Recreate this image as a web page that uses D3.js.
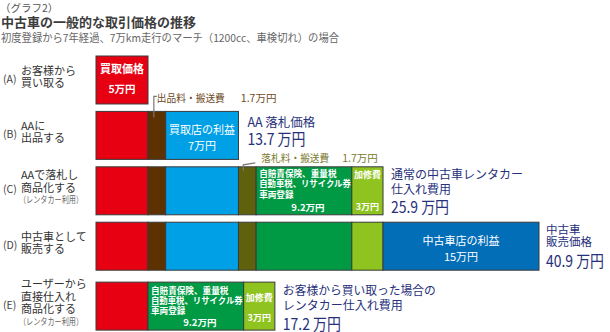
<!DOCTYPE html>
<html><head><meta charset="utf-8">
<script src="https://cdn.jsdelivr.net/npm/d3@7"></script>
<style>
html,body{margin:0;padding:0;background:#fff;}
text{font-family:"Noto Sans CJK JP","Noto Sans",sans-serif;}
</style></head>
<body>
<svg id="chart" width="610" height="332"></svg>
<script>
// ---- data ----
const categories = ["A", "B", "C", "D", "E"];
const rowLabels = [
  ["お客様から", "買い取る"],
  ["AAに", "出品する"],
  ["AAで落札し", "商品化する", "（レンタカー利用）"],
  ["中古車として", "販売する"],
  ["ユーザーから", "直接仕入れ", "商品化する", "（レンタカー利用）"]
];
const segmentNames = ["買取価格", "出品料・搬送費", "買取店の利益", "落札料・搬送費", "自賠責保険、重量税|自動車税、リサイクル券|車両登録", "加修費", "中古車店の利益"];
const segmentValues = [5, 1.7, 7, 1.7, 9.2, 3, 15];
const rowSegments = [[0], [0, 1, 2], [0, 1, 2, 3, 4, 5], [0, 1, 2, 3, 4, 5, 6], [0, 4, 5]];
const rowLabelledSegments = [[0], [2], [4, 5], [6], [4, 5]];
const rowTotals = [null, 13.7, 25.9, 40.9, 17.2];
const totalLabels = [null, ["AA 落札価格"], ["通常の中古車レンタカー", "仕入れ費用"], ["中古車", "販売価格"], ["お客様から買い取った場合の", "レンタカー仕入れ費用"]];
const calloutRows = [[1, 1], [2, 3]]; // [row, segment]

// ---- styles ----
const segmentColors = ["#e60012", "#5e3200", "#00a0e6", "#5f610c", "#009a44", "#8fc31f", "#036eb8"];
const navy = "#27307a";

const svg = d3.select("#chart");
const x = d3.scaleLinear().domain([0, d3.sum(segmentValues)]).range([96, 539]);
const y = d3.scaleBand().domain(categories).range([56, 325.6]).paddingInner(0.134);
const extraGap = {E: 4.5};
const barTop = c => y(c) + (extraGap[c] || 0);
const bh = y.bandwidth();

function fit(sel, maxW) {
  const w = sel.node().getComputedTextLength();
  if (w > maxW) sel.attr("textLength", maxW).attr("lengthAdjust", "spacingAndGlyphs");
  return sel;
}

// title
svg.append("text").attr("x", 0).attr("y", 8).attr("dy", "0.35em").attr("font-size", 10.5).attr("fill", "#555").text("（グラフ2）");
svg.append("text").attr("x", 1).attr("y", 22).attr("dy", "0.35em").attr("font-size", 13).attr("font-weight", "bold").attr("fill", "#3c3c3c").text("中古車の一般的な取引価格の推移");
fit(svg.append("text").attr("x", 1).attr("y", 38).attr("dy", "0.35em").attr("font-size", 10.8).attr("fill", "#666").text("初度登録から7年経過、7万km走行のマーチ（1200cc、車検切れ）の場合"), 338);

// stacked segments
const segs = [];
rowSegments.forEach((list, r) => {
  let acc = 0;
  list.forEach(s => {
    segs.push({row: categories[r], r, s, x0: acc, x1: acc + segmentValues[s]});
    acc += segmentValues[s];
  });
});

svg.append("g").selectAll("rect").data(segs).join("rect")
  .attr("x", d => x(d.x0)).attr("y", d => barTop(d.row))
  .attr("width", d => x(d.x1) - x(d.x0)).attr("height", bh)
  .attr("fill", d => segmentColors[d.s])
  .attr("stroke", "#3a3a3a").attr("stroke-width", 1);

// row labels
categories.forEach((c, r) => {
  const bc = barTop(c) + bh / 2;
  const g = svg.append("g");
  g.append("text").attr("x", 3).attr("y", bc - 1).attr("dy", "0.35em").attr("font-size", 10.5).attr("fill", "#444").text("(" + c + ")");
  const lines = rowLabels[r];
  const sp = 12.4;
  const start = bc - 3 - (lines.length - 1) * sp / 2;
  lines.forEach((t, i) => {
    const small = t.startsWith("（");
    const tx = g.append("text").attr("x", small ? 19 : 21).attr("y", start + i * sp).attr("dy", "0.35em")
      .attr("font-size", small ? 9 : 11).attr("fill", small ? "#666" : "#333").text(t);
    fit(tx, small ? 64 : 66);
  });
});

// in-bar labels
segs.forEach(d => {
  if (!rowLabelledSegments[d.r].includes(d.s)) return;
  const t = barTop(d.row), x0 = x(d.x0), x1 = x(d.x1), cx = (x0 + x1) / 2;
  const val = segmentValues[d.s] + "万円";
  const add = (tx, ty, str, size, weight, anchor) => fit(svg.append("text").attr("x", tx).attr("y", ty).attr("dy", "0.35em")
    .attr("font-size", size).attr("font-weight", weight).attr("fill", "#fff").attr("text-anchor", anchor || "middle").text(str), x1 - x0 - 4);
  if (d.s === 0) {
    add(cx, t + 13, segmentNames[0], 11, "bold");
    add(cx, t + 33, val, 10.5, "bold");
  } else if (d.s === 2 || d.s === 6) {
    add(cx, t + 18.5, segmentNames[d.s], 11, "normal");
    add(cx, t + 34.5, val, 11, "normal");
  } else if (d.s === 4) {
    const lines = segmentNames[4].split("|");
    const off = d.row === "E" ? [9, 19, 29] : [7, 17.5, 28];
    lines.forEach((l, i) => add(x0 + 3, t + off[i], l, 8.6, "bold", "start"));
    add(cx + 4, t + 41, val, 9.5, "bold");
  } else if (d.s === 5) {
    const off = d.row === "E" ? [16, 36] : [8, 40];
    add(cx, t + off[0], segmentNames[5], 9, "bold");
    add(cx, t + off[1], val, 9, "bold");
  }
});

// callouts
calloutRows.forEach(([r, s]) => {
  const d = segs.find(e => e.r === r && e.s === s);
  const t = barTop(d.row);
  const cx = (x(d.x0) + x(d.x1)) / 2;
  const color = s === 1 ? "#6e4a1e" : "#7b7a2e";
  if (s === 1) {
    svg.append("path").attr("d", `M${cx - 3},${t + 6}V${t - 15}H${cx}`).attr("fill", "none").attr("stroke", "#777").attr("stroke-width", 1.2);
    fit(svg.append("text").attr("x", cx).attr("y", t - 13).attr("dy", "0.35em").attr("font-size", 10.5).attr("fill", color).text(segmentNames[s]), 68);
    svg.append("text").attr("x", cx + 84).attr("y", t - 13).attr("dy", "0.35em").attr("font-size", 10.5).attr("fill", color).text(segmentValues[s] + "万円");
  } else {
    svg.append("path").attr("d", `M${cx - 4},${t + 4}V${t - 2}L${cx + 8},${t - 4}`).attr("fill", "none").attr("stroke", "#777").attr("stroke-width", 1.2);
    fit(svg.append("text").attr("x", cx + 14).attr("y", t - 8).attr("dy", "0.35em").attr("font-size", 10.5).attr("fill", color).text(segmentNames[s]), 68);
    svg.append("text").attr("x", cx + 95).attr("y", t - 8).attr("dy", "0.35em").attr("font-size", 10.5).attr("fill", color).text(segmentValues[s] + "万円");
  }
});

// totals
const totalLayout = {B: {dx: 9, lines: [-13], big: 4, sz: 12.5}, C: {dx: 8, lines: [-16.5, -1.5], big: 16.5, sz: 12},
  D: {dx: 7, lines: [-16, -4], big: 15, sz: 11.5}, E: {dx: 8, lines: [-15, 0], big: 18, sz: 12}};
categories.forEach((c, r) => {
  if (rowTotals[r] == null) return;
  const end = x(d3.sum(rowSegments[r], s => segmentValues[s]));
  const bc = barTop(c) + bh / 2;
  const L = totalLayout[c];
  totalLabels[r].forEach((t, i) => {
    fit(svg.append("text").attr("x", end + L.dx).attr("y", bc + L.lines[i]).attr("dy", "0.35em").attr("font-size", L.sz).attr("fill", navy).text(t), 153);
  });
  fit(svg.append("text").attr("x", end + L.dx).attr("y", bc + L.big).attr("dy", "0.35em").attr("font-size", 16).attr("fill", navy).text(rowTotals[r] + " 万円"), 58);
});
</script>
</body></html>
